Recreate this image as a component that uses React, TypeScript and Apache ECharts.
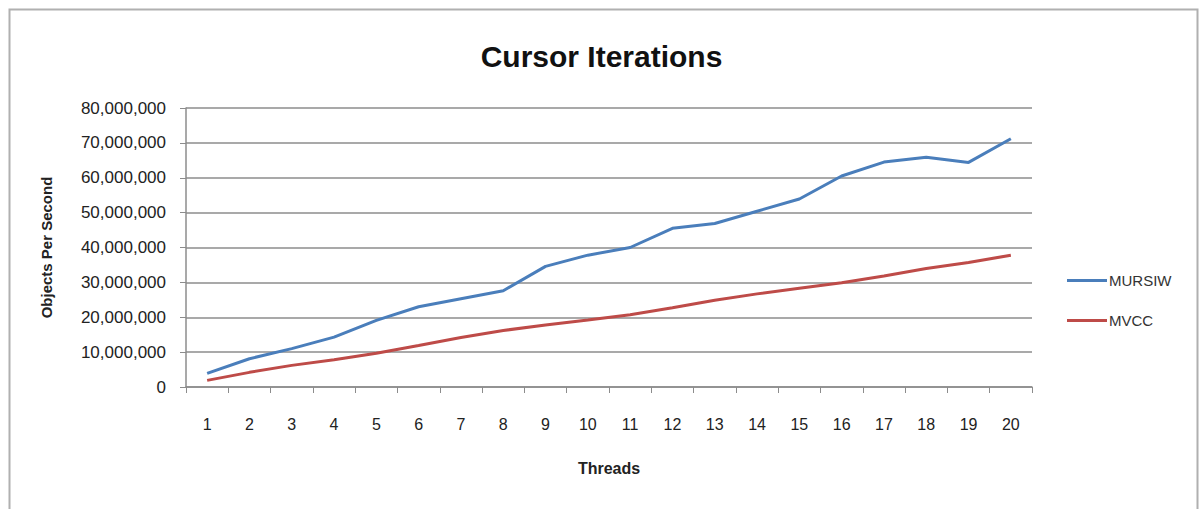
import React, { useEffect, useRef } from "react";
import * as echarts from "echarts";

const threads = ["1","2","3","4","5","6","7","8","9","10","11","12","13","14","15","16","17","18","19","20"];
const mursiw = [3.9e6, 8.1e6, 11.0e6, 14.3e6, 19.1e6, 23.0e6, 25.3e6, 27.6e6, 34.6e6, 37.8e6, 40.0e6, 45.5e6, 46.9e6, 50.4e6, 53.9e6, 60.5e6, 64.5e6, 65.9e6, 64.4e6, 71.2e6];
const mvcc = [1.9e6, 4.2e6, 6.2e6, 7.8e6, 9.7e6, 11.9e6, 14.2e6, 16.2e6, 17.8e6, 19.2e6, 20.7e6, 22.7e6, 24.9e6, 26.7e6, 28.3e6, 29.9e6, 31.8e6, 34.0e6, 35.7e6, 37.8e6];
const seriesNames = ["MURSIW", "MVCC"];

const FONT = "'Liberation Sans', Arial, sans-serif";

export default function App() {
  const ref = useRef<HTMLDivElement>(null);
  useEffect(() => {
    if (!ref.current) return;
    const chart = echarts.init(ref.current, null, { renderer: "svg" });
    chart.setOption({
      animation: false,
      backgroundColor: "#ffffff",
      textStyle: { fontFamily: FONT },
      title: {
        text: "Cursor Iterations",
        left: "center",
        top: 36,
        textStyle: { fontSize: 30, fontWeight: "bold", color: "#111", fontFamily: FONT },
      },
      graphic: [
        {
          type: "rect",
          shape: { x: 9.5, y: 9.5, width: 1188, height: 520 },
          style: { fill: "none", stroke: "#b0b0b0", lineWidth: 2 },
          silent: true,
        },
      ],
      legend: {
        orient: "vertical",
        left: 1062,
        top: 268,
        itemWidth: 40,
        itemHeight: 3,
        itemGap: 25,
        icon: "rect",
        data: seriesNames,
        textStyle: { fontSize: 15, color: "#333", fontFamily: FONT, padding: [0, 0, 0, -3] },
      },
      grid: { left: 186, right: 171, top: 108, bottom: 122, containLabel: false },
      xAxis: {
        type: "category",
        data: threads,
        boundaryGap: true,
        name: "Threads",
        nameLocation: "middle",
        nameGap: 73,
        nameTextStyle: { fontSize: 16, fontWeight: "bold", color: "#222", fontFamily: FONT },
        axisLine: { lineStyle: { color: "#8c8c8c", width: 1.5 } },
        axisTick: { show: true, length: 6, lineStyle: { color: "#8c8c8c" } },
        axisLabel: { margin: 29, fontSize: 16, color: "#222", fontFamily: FONT, interval: 0 },
        splitLine: { show: false },
      },
      yAxis: {
        type: "value",
        min: 0,
        max: 80000000,
        interval: 10000000,
        name: "Objects Per Second",
        nameLocation: "middle",
        nameGap: 132,
        nameTextStyle: { fontSize: 15, fontWeight: "bold", color: "#222", fontFamily: FONT },
        axisLine: { show: true, lineStyle: { color: "#8c8c8c", width: 1.5 } },
        axisTick: { show: true, length: 6, lineStyle: { color: "#8c8c8c" } },
        axisLabel: {
          margin: 20,
          fontSize: 17,
          color: "#222",
          fontFamily: FONT,
          formatter: (v: number) => v.toLocaleString("en-US"),
        },
        splitLine: { show: true, lineStyle: { color: "#8c8c8c", width: 1.5 } },
      },
      series: [
        {
          name: seriesNames[0],
          type: "line",
          data: mursiw,
          symbol: "none",
          lineStyle: { color: "#4a7ebb", width: 3 },
          itemStyle: { color: "#4a7ebb" },
        },
        {
          name: seriesNames[1],
          type: "line",
          data: mvcc,
          symbol: "none",
          lineStyle: { color: "#be4b48", width: 3 },
          itemStyle: { color: "#be4b48" },
        },
      ],
    });
    return () => chart.dispose();
  }, []);
  return (
    <div
      ref={ref}
      style={{ position: "fixed", left: 0, top: 0, width: 1203, height: 509 }}
    />
  );
}
